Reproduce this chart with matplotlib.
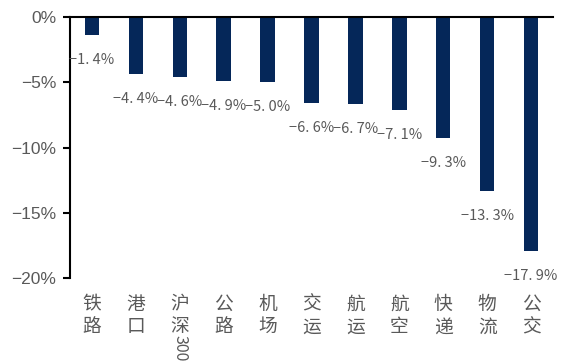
import matplotlib
matplotlib.use("Agg")
import matplotlib.pyplot as plt
import matplotlib.transforms as mtransforms

plt.rcParams['font.family'] = ['Noto Sans CJK SC', 'DejaVu Sans']

categories = ["铁路", "港口", "沪深300", "公路", "机场", "交运", "航运", "航空", "快递", "物流", "公交"]
values = [-1.4, -4.4, -4.6, -4.9, -5.0, -6.6, -6.7, -7.1, -9.3, -13.3, -17.9]
yticks = [0, -5, -10, -15, -20]
ytick_labels = ["0%", "\u22125%", "\u221210%", "\u221215%", "\u221220%"]

bar_color = "#052759"
text_color = "#595959"

fig = plt.figure(figsize=(5.62, 3.63), dpi=100)
ax = fig.add_axes([0.1246, 0.234, 0.984 - 0.1246, 0.953 - 0.234])

x = list(range(len(categories)))
ax.bar(x, values, width=0.33, color=bar_color, zorder=2)

ax.set_xlim(-0.5, len(categories) - 0.5)
ax.set_ylim(-20, 0)

for s in ["right", "bottom"]:
    ax.spines[s].set_visible(False)
ax.spines["top"].set_linewidth(1.5)
ax.spines["left"].set_linewidth(1.5)

ax.set_yticks(yticks)
ax.set_yticklabels(ytick_labels, color=text_color, fontsize=12.5, family=['Liberation Sans', 'DejaVu Sans'])
ax.tick_params(axis='y', direction='out', length=5, width=1.5, pad=5)

ax.set_xticks([])

# data labels
for xi, v in zip(x, values):
    ax.annotate(f"-{abs(v):.1f}%".replace(".", ". ").replace("-", "\u2212"),
                xy=(xi, v), xytext=(0, -18), textcoords="offset points",
                ha="center", va="center", fontsize=10.5, color=text_color)

# category labels (vertical stacked characters)
trans = mtransforms.blended_transform_factory(ax.transData, ax.transAxes)
for xi, cat in zip(x, categories):
    if cat == "沪深300":
        ax.text(xi, -0.06, "沪\n深", transform=trans, ha="center", va="top",
                fontsize=13.5, color=text_color, linespacing=1.1)
        ax.text(xi, -0.06 - 0.158, "300", transform=trans, ha="center", va="top",
                fontsize=11.5, color=text_color, rotation=270)
    else:
        ax.text(xi, -0.06, "\n".join(cat), transform=trans, ha="center", va="top",
                fontsize=13.5, color=text_color, linespacing=1.1)

fig.savefig("out.png", dpi=100)
